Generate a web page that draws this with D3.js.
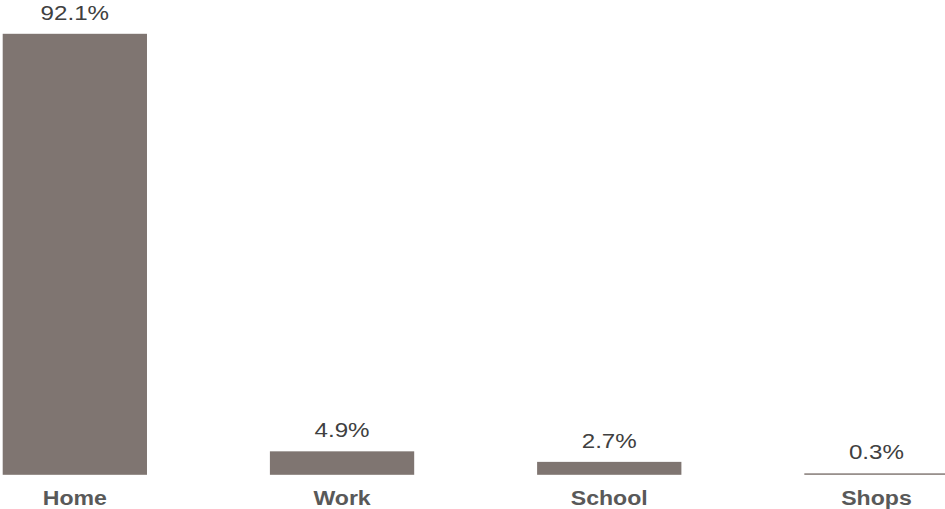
<!DOCTYPE html>
<html><head><meta charset="utf-8">
<script src="https://cdn.jsdelivr.net/npm/d3@7"></script>
<style>body{margin:0;background:#fff;}svg{display:block;}</style>
</head><body>
<script>
const categories = ["Home", "Work", "School", "Shops"];
const values = [92.1, 4.9, 2.7, 0.3];
const valueLabels = ["92.1%", "4.9%", "2.7%", "0.3%"];

const W = 945, H = 509;
const svg = d3.select("body").append("svg").attr("width", W).attr("height", H);

const x = d3.scaleBand().domain(categories).range([2.7, 948.6]).paddingInner(0.46).paddingOuter(0);
const y = d3.scaleLinear().domain([0, 92.1]).range([474.8, 33.8]);

const data = categories.map((c, i) => ({c, v: values[i], l: valueLabels[i]}));

svg.selectAll("rect.bar").data(data).enter().append("rect")
  .attr("class", "bar")
  .attr("x", d => x(d.c))
  .attr("width", x.bandwidth())
  .attr("y", d => y(d.v))
  .attr("height", d => y(0) - y(d.v))
  .attr("fill", "#7f7571");

svg.selectAll("text.val").data(data).enter().append("text")
  .attr("class", "val")
  .attr("transform", d => `translate(${x(d.c) + x.bandwidth()/2},${y(d.v) - 14}) scale(1.24,1)`)
  .attr("text-anchor", "middle")
  .attr("font-family", "Liberation Sans, Arial, sans-serif")
  .attr("font-size", 19.5)
  .attr("fill", "#404040")
  .text(d => d.l);

const xAxis = d3.axisBottom(x).tickSize(0).tickPadding(0);
const g = svg.append("g").attr("transform", `translate(0,${y(0)})`).call(xAxis);
g.select(".domain").remove();
g.selectAll("text")
  .attr("y", 0).attr("dy", 0)
  .attr("transform", "translate(0,30) scale(1.1,1)")
  .attr("font-family", "Liberation Sans, Arial, sans-serif")
  .attr("font-size", 21)
  .attr("font-weight", "bold")
  .attr("fill", "#595959");
g.selectAll(".tick").each(function(){
  const t = d3.select(this);
  const tr = t.attr("transform");
  const m = /translate\(([^,]+),/.exec(tr);
  t.attr("transform", `translate(${m[1]},0)`);
});
</script>
</body></html>
